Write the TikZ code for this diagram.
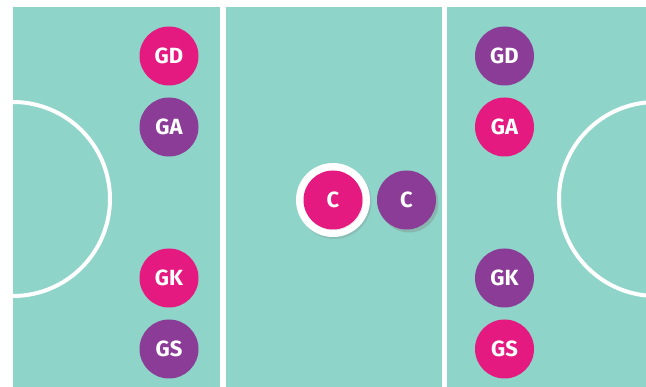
\documentclass[tikz,border=0pt]{standalone}
\usepackage{fontspec}
\setmainfont{Fira Sans}
\usetikzlibrary{shadows}
\definecolor{court}{RGB}{142,212,201}
\definecolor{pinkc}{RGB}{228,26,128}
\definecolor{purplec}{RGB}{139,60,150}
\tikzset{
  dot/.style={circle, minimum size=59pt, inner sep=0pt, text=white,
    font=\bfseries\fontsize{22}{22}\selectfont},
  pinkdot/.style={dot, fill=pinkc},
  purpledot/.style={dot, fill=purplec},
  courtline/.style={white, line width=4pt},
  divider/.style={white, line width=5.5pt}
}
\begin{document}
\begin{tikzpicture}[x=1pt,y=-1pt]
\useasboundingbox (0,0) rectangle (646,387);
\fill[white] (0,0) rectangle (646,387);
\fill[court] (13,7) rectangle (646,387);
\begin{scope}
  \clip (13,7) rectangle (646,387);
  \draw[courtline] (13,199) circle[radius=97];
  \draw[courtline] (656,199) circle[radius=97];
\end{scope}
\draw[divider] (223,7) -- (223,387);
\draw[divider] (444.5,7) -- (444.5,387);
% left third
\node[pinkdot] (lgd) at (169,56) {GD};
\node[purpledot] (lga) at (169,127) {GA};
\node[pinkdot] (lgk) at (169,278) {GK};
\node[purpledot] (lgs) at (169,349) {GS};
% right third
\node[purpledot] (rgd) at (504.5,56) {GD};
\node[pinkdot] (rga) at (504.5,127) {GA};
\node[purpledot] (rgk) at (504.5,278) {GK};
\node[pinkdot] (rgs) at (504.5,349) {GS};
% centre
\node[circle, fill=white, minimum size=74pt, inner sep=0pt,
  drop shadow={opacity=0.25, shadow xshift=1.5pt, shadow yshift=-2pt}] (ring) at (333,200) {};
\node[pinkdot, drop shadow={opacity=0.15, shadow xshift=1pt, shadow yshift=-1pt}] (cp) at (333,200) {C};
\node[purpledot, drop shadow={opacity=0.35, shadow xshift=2.5pt, shadow yshift=-3pt}] (cu) at (406.5,200) {C};
\end{tikzpicture}
\end{document}
